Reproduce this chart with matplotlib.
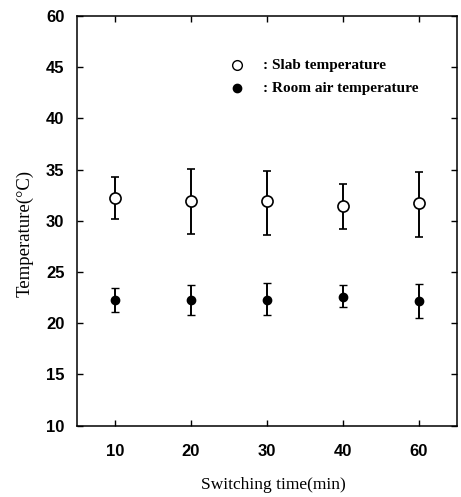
import matplotlib
matplotlib.use("Agg")
import matplotlib.pyplot as plt
import numpy as np

# Data
categories = ["10", "20", "30", "40", "60"]
slab_mean = [32.2, 31.9, 31.9, 31.4, 31.7]
slab_upper = [34.25, 35.05, 34.9, 33.6, 34.8]
slab_lower = [30.15, 28.7, 28.6, 29.2, 28.45]
room_mean = [22.3, 22.3, 22.3, 22.6, 22.2]
room_upper = [23.4, 23.7, 23.9, 23.7, 23.8]
room_lower = [21.1, 20.8, 20.8, 21.6, 20.5]
ytick_values = [10, 15, 20, 25, 30, 35, 40, 45, 50]
ytick_labels = ["10", "15", "20", "25", "30", "35", "40", "45", "60"]

x = np.arange(1, len(categories) + 1)

fig = plt.figure(figsize=(4.61, 4.97), dpi=100)
ax = fig.add_axes([0.167, 0.1435, 0.824, 0.8245])

sm = np.array(slab_mean)
rm = np.array(room_mean)
slab_err = [sm - np.array(slab_lower), np.array(slab_upper) - sm]
room_err = [rm - np.array(room_lower), np.array(room_upper) - rm]

ax.errorbar(x, slab_mean, yerr=slab_err, fmt='o', mfc='white', mec='black',
            ms=8, mew=1.2, ecolor='black', elinewidth=1.4, capsize=2.7,
            capthick=1.6, zorder=3)
ax.errorbar(x, room_mean, yerr=room_err, fmt='o', mfc='black', mec='black',
            ms=6, mew=1.0, ecolor='black', elinewidth=1.4, capsize=2.7,
            capthick=1.6, zorder=3)

ax.set_xlim(0.5, 5.5)
ax.set_ylim(10, 50)
ax.set_xticks(x)
ax.set_xticklabels(categories)
ax.set_yticks(ytick_values)
ax.set_yticklabels(ytick_labels)

for sp in ax.spines.values():
    sp.set_linewidth(1.1)

ax.tick_params(direction='in', length=4, width=1.0, top=True, right=True)
ax.tick_params(axis='x', pad=13)
ax.tick_params(axis='y', pad=9)
for lab in ax.get_xticklabels() + ax.get_yticklabels():
    lab.set_fontfamily('Liberation Serif' if False else 'Liberation Sans')
    lab.set_fontweight('bold')
    lab.set_fontsize(12)

ax.set_xlabel("Switching time(min)", family='Liberation Serif', fontsize=12.5,
              va='center')
ax.xaxis.set_label_coords(0.516, -0.145)
ax.set_ylabel("Temperature(°C)", family='Liberation Serif', fontsize=13.5,
              va='center')
ax.yaxis.set_label_coords(-0.137, 0.47)

# Legend drawn as text with markers in axes coordinates
ax.plot([0.42], [0.88], 'o', mfc='white', mec='black', ms=7, mew=1.0,
        transform=ax.transAxes, clip_on=False)
ax.plot([0.42], [0.824], 'o', mfc='black', mec='black', ms=6,
        transform=ax.transAxes, clip_on=False)
ax.text(0.49, 0.88, ": Slab temperature", transform=ax.transAxes,
        family='Liberation Serif', fontweight='bold', fontsize=11, va='center')
ax.text(0.49, 0.824, ": Room air temperature", transform=ax.transAxes,
        family='Liberation Serif', fontweight='bold', fontsize=11, va='center')

fig.savefig("out.png", dpi=100)
